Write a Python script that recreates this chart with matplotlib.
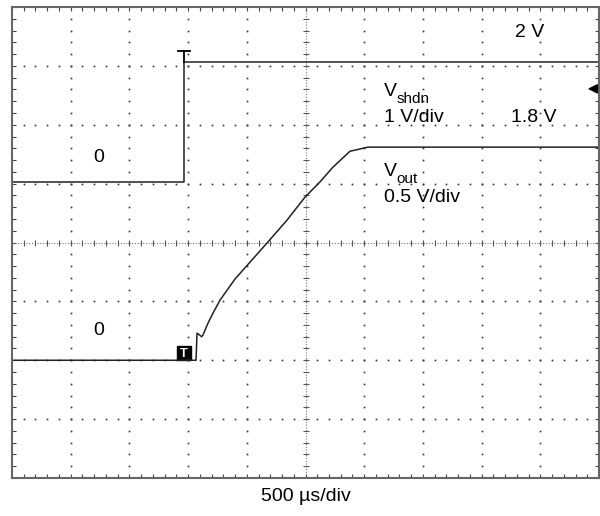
import numpy as np
import matplotlib
matplotlib.use('Agg')
from matplotlib import pyplot as plt
from matplotlib.patches import Rectangle

# scope screen: 10 x 8 divisions (in divisions)
shdn_t = [0, 2.93, 2.93, 10]
shdn_v = [5.03, 5.03, 7.06, 7.06]

vout_t = [0, 3.135, 3.152, 3.232, 3.254, 3.339, 3.424, 3.543, 3.799, 4.361,
          4.685, 4.991, 5.247, 5.468, 5.758, 6.065, 10]
vout_v = [2.0, 2.0, 2.46, 2.40, 2.43, 2.63, 2.80, 3.02, 3.38, 4.01,
          4.38, 4.77, 5.03, 5.28, 5.55, 5.62, 5.62]

trig_t = 2.93

plt.rcParams['font.family'] = ['Liberation Sans', 'DejaVu Sans']

fig = plt.figure(figsize=(6, 5.16), dpi=100)
ax = fig.add_axes([12 / 600, 1 - 478 / 516, 587 / 600, 471 / 516])
ax.set_xlim(0, 10)
ax.set_ylim(0, 8)

# dotted graticule, 5 dots per division
minor = np.arange(1, 40) / 5
for gx in range(1, 10):
    if gx == 5:
        continue
    ax.plot(np.full(len(minor), gx), minor, ls='none', marker='s', ms=1.2,
            mec='none', mfc='#333333')
minor_x = np.arange(1, 50) / 5
for gy in range(1, 8):
    if gy == 4:
        continue
    ax.plot(minor_x, np.full(len(minor_x), gy), ls='none', marker='s', ms=1.2,
            mec='none', mfc='#333333')

# center axes with fine dots and small ticks
ax.axhline(4, color='#777777', lw=0.8, ls=(0, (1, 1.5)))
ax.axvline(5, color='#777777', lw=0.8, ls=(0, (1, 1.5)))
ax.plot(minor_x, np.full(len(minor_x), 4), ls='none', marker='|', ms=4,
        mew=0.8, color='#555555')
ax.plot(np.full(len(minor), 5), minor, ls='none', marker='_', ms=4,
        mew=0.8, color='#555555')

# traces
ax.plot(shdn_t, shdn_v, color='#222222', lw=1.1)
ax.plot(vout_t, vout_v, color='#222222', lw=1.1)

# trigger markers
ax.plot([trig_t - 0.1, trig_t + 0.1], [7.25, 7.25], color='k', lw=1.3)
ax.plot([trig_t, trig_t], [7.06, 7.25], color='k', lw=1.3)
ax.add_patch(Rectangle((trig_t - 0.12, 2.0), 0.24, 0.24, fc='k', ec='k'))
ax.text(trig_t, 2.11, 'T', color='white', fontsize=9, fontweight='bold',
        ha='center', va='center')
ax.annotate('', xy=(9.76, 6.61), xytext=(9.97, 6.61),
            arrowprops=dict(arrowstyle='-|>', color='k', lw=1.2, mutation_scale=14))

# labels
fs = 14
ax.text(8.82, 7.56, '2 V', fontsize=fs, ha='center', va='center')
ax.text(6.33, 6.56, 'V', fontsize=fs, ha='left', va='center')
ax.annotate('shdn', xy=(6.33, 6.56), xytext=(9.4, -5), textcoords='offset points',
            fontsize=11, ha='left', va='center')
ax.text(6.33, 6.13, '1 V/div', fontsize=fs, ha='left', va='center')
ax.text(8.88, 6.13, '1.8 V', fontsize=fs, ha='center', va='center')
ax.text(6.33, 5.2, 'V', fontsize=fs, ha='left', va='center')
ax.annotate('out', xy=(6.33, 5.2), xytext=(9.4, -5), textcoords='offset points',
            fontsize=11, ha='left', va='center')
ax.text(6.33, 4.76, '0.5 V/div', fontsize=fs, ha='left', va='center')
ax.text(1.48, 5.44, '0', fontsize=fs, ha='center', va='center')
ax.text(1.48, 2.51, '0', fontsize=fs, ha='center', va='center')
ax.text(5.0, -0.31, '500 \u00b5s/div', fontsize=fs, ha='center', va='center',
        clip_on=False)

# frame ticks
ax.set_xticks(range(0, 11))
ax.set_yticks(range(0, 9))
ax.set_xticks(np.arange(0, 50) / 5, minor=True)
ax.set_yticks(np.arange(0, 40) / 5, minor=True)
ax.tick_params(which='both', direction='in', top=True, right=True,
               labelbottom=False, labelleft=False, length=3, width=0.8,
               color='#444444')
for s in ax.spines.values():
    s.set_color('#666666')
    s.set_linewidth(1.5)

fig.savefig('out.png', dpi=100)
